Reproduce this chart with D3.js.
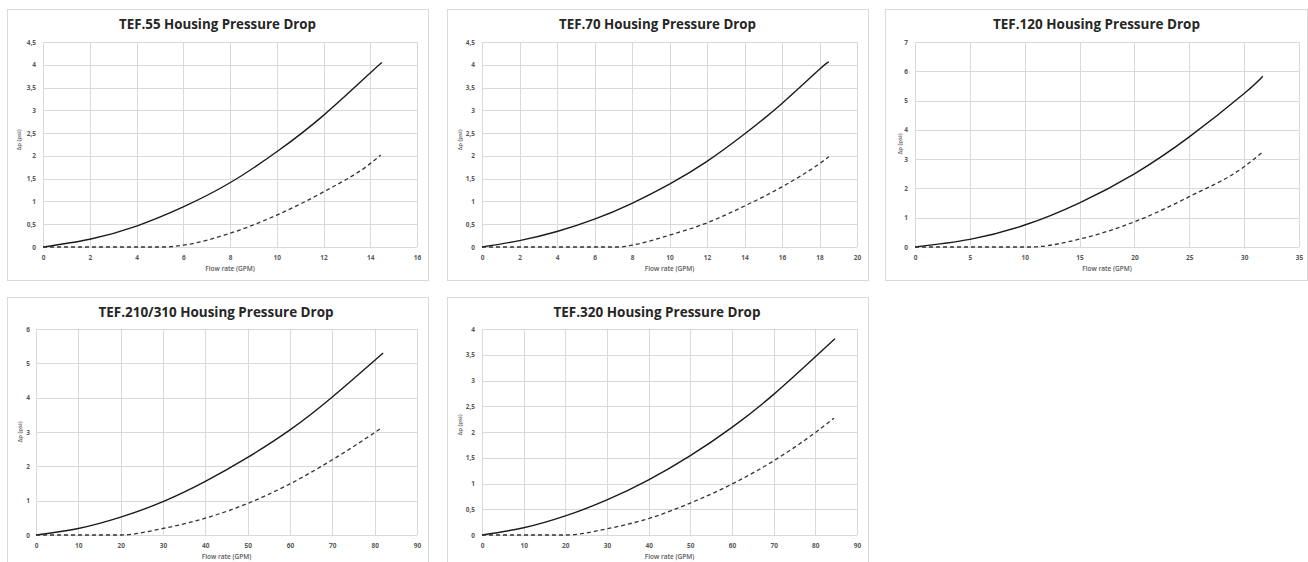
<!DOCTYPE html>
<html><head><meta charset="utf-8">
<script src="https://cdn.jsdelivr.net/npm/d3@7"></script>
<style>body{margin:0;background:#fff;} svg{display:block}</style>
</head><body><svg id="c" width="1308" height="562"></svg>
<script>
// ---- data ----
const titles = ["TEF.55 Housing Pressure Drop","TEF.70 Housing Pressure Drop","TEF.120 Housing Pressure Drop","TEF.210/310 Housing Pressure Drop","TEF.320 Housing Pressure Drop"];
const xTitle = "Flow rate (GPM)";
const yTitle = "Δp (psi)";

const solidX55 = [0,2,4,6,8,10,12,14,14.5];
const solidY55 = [0,0.17,0.46,0.88,1.41,2.09,2.89,3.82,4.05];
const dashX55 = [0,5.2,6,8,10,12,14,14.45];
const dashY55 = [0,0,0.04,0.30,0.70,1.21,1.83,2.02];

const solidX70 = [0,2,4,6,8,10,12,14,16,18,18.5];
const solidY70 = [0,0.14,0.34,0.61,0.96,1.38,1.88,2.48,3.15,3.90,4.06];
const dashX70 = [0,7.3,8,10,12,14,16,18,18.5];
const dashY70 = [0,0,0.04,0.26,0.53,0.90,1.32,1.83,1.98];

const solidX120 = [0,5,10,15,20,25,30,31.7];
const solidY120 = [0,0.26,0.75,1.51,2.50,3.76,5.24,5.83];
const dashX120 = [0,10.5,15,20,25,30,31.7];
const dashY120 = [0,0,0.27,0.86,1.72,2.74,3.25];

const solidX210 = [0,10,20,30,40,50,60,70,82];
const solidY210 = [0,0.19,0.52,0.97,1.56,2.26,3.06,4.02,5.30];
const dashX210 = [0,20,30,40,50,60,70,81.3];
const dashY210 = [0,0,0.19,0.49,0.92,1.49,2.19,3.09];

const solidX320 = [0,10,20,30,40,50,60,70,80,84.7];
const solidY320 = [0,0.14,0.37,0.68,1.07,1.54,2.09,2.73,3.46,3.81];
const dashX320 = [0,20,30,40,50,60,70,80,84.5];
const dashY320 = [0,0,0.12,0.32,0.62,0.99,1.44,1.99,2.27];

const xTicks55 = [0,2,4,6,8,10,12,14,16];
const xTicks70 = [0,2,4,6,8,10,12,14,16,18,20];
const xTicks120 = [0,5,10,15,20,25,30,35];
const xTicks210 = [0,10,20,30,40,50,60,70,80,90];
const xTicks320 = [0,10,20,30,40,50,60,70,80,90];
const yTicks55 = [0,0.5,1,1.5,2,2.5,3,3.5,4,4.5];
const yTicks70 = [0,0.5,1,1.5,2,2.5,3,3.5,4,4.5];
const yTicks120 = [0,1,2,3,4,5,6,7];
const yTicks210 = [0,1,2,3,4,5,6];
const yTicks320 = [0,0.5,1,1.5,2,2.5,3,3.5,4];

// ---- layout ----
const panels = [
  {box:[7,9,428,280], plot:[43,417,42,247], title:[217.5,29,197], sx:solidX55, sy:solidY55, dx:dashX55, dy:dashY55, xt:xTicks55, yt:yTicks55, ylab:[19.5,140], ytOff:7},
  {box:[447,9,868,280], plot:[482,857,42,247], title:[657.5,29,197], sx:solidX70, sy:solidY70, dx:dashX70, dy:dashY70, xt:xTicks70, yt:yTicks70, ylab:[460,140], ytOff:7},
  {box:[885,9,1307,280], plot:[915,1299,42,247], title:[1096.5,29,207], sx:solidX120, sy:solidY120, dx:dashX120, dy:dashY120, xt:xTicks120, yt:yTicks120, ylab:[900,144], ytOff:7},
  {box:[7,297,428,600], plot:[36,417,329,535], title:[216,317,235], sx:solidX210, sy:solidY210, dx:dashX210, dy:dashY210, xt:xTicks210, yt:yTicks210, ylab:[20,432], ytOff:6},
  {box:[447,297,868,600], plot:[482,857,329,535], title:[657,317,207], sx:solidX320, sy:solidY320, dx:dashX320, dy:dashY320, xt:xTicks320, yt:yTicks320, ylab:[460,425], ytOff:7}
];

const svg = d3.select("#c");
const fmt = v => String(v).replace(".", ",");
const font = "'Open Sans', sans-serif";

panels.forEach((p, i) => {
  const g = svg.append("g");
  const [bx0, by0, bx1, by1] = p.box;
  g.append("rect").attr("x", bx0 + 0.5).attr("y", by0 + 0.5)
    .attr("width", bx1 - bx0).attr("height", by1 - by0)
    .attr("fill", "#fff").attr("stroke", "#d9d9d9").attr("stroke-width", 1);

  const [l, r, t, b] = p.plot;
  const x = d3.scaleLinear().domain([0, d3.max(p.xt)]).range([l, r]);
  const y = d3.scaleLinear().domain([0, d3.max(p.yt)]).range([b, t]);

  // gridlines via axes
  g.append("g").attr("transform", `translate(0,${b})`)
    .call(d3.axisBottom(x).tickValues(p.xt).tickSize(-(b - t)).tickFormat(""))
    .call(s => s.select(".domain").remove())
    .call(s => s.selectAll("line").attr("stroke", "#d9d9d9").attr("shape-rendering", "crispEdges"));
  g.append("g").attr("transform", `translate(${l},0)`)
    .call(d3.axisLeft(y).tickValues(p.yt).tickSize(-(r - l)).tickFormat(""))
    .call(s => s.select(".domain").remove())
    .call(s => s.selectAll("line").attr("stroke", "#d9d9d9").attr("shape-rendering", "crispEdges"));

  // tick labels
  g.append("g").attr("transform", `translate(0,${b})`)
    .call(d3.axisBottom(x).tickValues(p.xt).tickSize(0).tickPadding(8).tickFormat(d => fmt(d)))
    .call(s => s.select(".domain").remove())
    .call(s => s.selectAll("text").attr("font-family", font).attr("font-weight", "bold").attr("font-size", 6.5).attr("fill", "#595959"));
  g.append("g").attr("transform", `translate(${l},0)`)
    .call(d3.axisLeft(y).tickValues(p.yt).tickSize(0).tickPadding(p.ytOff).tickFormat(d => fmt(d)))
    .call(s => s.select(".domain").remove())
    .call(s => s.selectAll("text").attr("font-family", font).attr("font-weight", "bold").attr("font-size", 6.5).attr("fill", "#595959"));

  // axis titles
  g.append("text").attr("x", (l + r) / 2).attr("y", b + 24)
    .attr("text-anchor", "middle").attr("font-family", font)
    .attr("font-weight", "600").attr("font-size", 6.5).attr("fill", "#595959").text(xTitle);
  g.append("text").attr("transform", `translate(${p.ylab[0]},${p.ylab[1]}) rotate(-90)`)
    .attr("text-anchor", "middle").attr("dominant-baseline", "middle")
    .attr("font-family", font)
    .attr("font-weight", "600").attr("font-size", 6).attr("fill", "#595959").text(yTitle);

  // title
  g.append("text").attr("x", p.title[0]).attr("y", p.title[1])
    .attr("text-anchor", "middle").attr("font-family", font)
    .attr("font-weight", "bold").attr("font-size", 14.5).attr("fill", "#262626")
    .attr("textLength", p.title[2]).attr("lengthAdjust", "spacingAndGlyphs")
    .text(titles[i]);

  // lines
  const solidLine = d3.line().x(d => x(d[0])).y(d => y(d[1])).curve(d3.curveNatural);
  const dashLine = d3.line().x(d => x(d[0])).y(d => y(d[1])).curve(d3.curveMonotoneX);
  g.append("path").datum(p.sx.map((v, k) => [v, p.sy[k]]))
    .attr("d", solidLine).attr("fill", "none").attr("stroke", "#1a1a1a").attr("stroke-width", 1.4);
  g.append("path").datum(p.dx.map((v, k) => [v, p.dy[k]]))
    .attr("d", dashLine).attr("fill", "none").attr("stroke", "#333").attr("stroke-width", 1.3)
    .attr("stroke-dasharray", "4,3");
});
</script></body></html>
